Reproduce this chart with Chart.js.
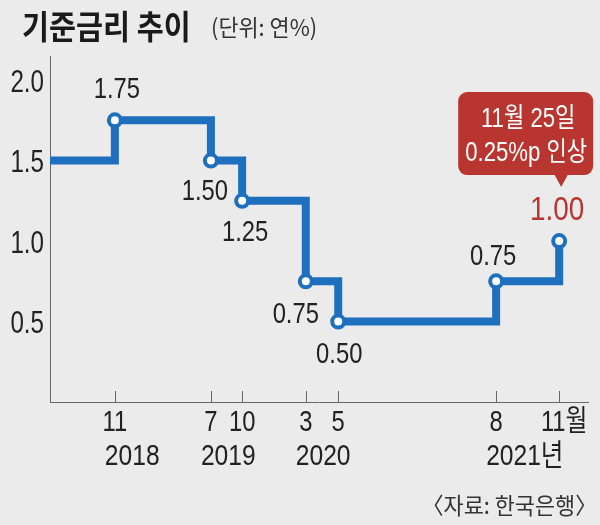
<!DOCTYPE html>
<html>
<head>
<meta charset="utf-8">
<script src="https://cdn.jsdelivr.net/npm/chart.js@4/dist/chart.umd.min.js"></script>
<style>
html, body { margin: 0; padding: 0; background: #ebebeb; }
#wrap { width: 600px; height: 525px; }
</style>
</head>
<body>
<div id="wrap"><canvas id="rateChart"></canvas></div>
<script>
// x = months since Jan 2018 (0), as placed in the picture
var changeMonths = [4.6, 10, 18, 20.6, 25.9, 28.6, 41.75, 47];
var rates = [1.5, 1.75, 1.5, 1.25, 0.75, 0.5, 0.75, 1.0];
var rateLabels = ['', '1.75', '1.50', '1.25', '0.75', '0.50', '0.75', '1.00'];
var monthTicks = [10, 18, 20.6, 25.9, 28.6, 41.75, 47];
var monthLabels = ['11', '7', '10', '3', '5', '8', '11월'];
var yearTicks = [10, 18, 25.9, 41.75];
var yearLabels = ['2018', '2019', '2020', '2021년'];
var yTicks = [0.5, 1.0, 1.5, 2.0];

var SANS = "'Liberation Sans', 'Noto Sans CJK KR', sans-serif";
var KR = "'Noto Sans CJK KR', sans-serif";
var BLUE = '#1f6fbf';
var RED = '#b8362f';
var SQUEEZE = 0.82;

// label offsets from each point (px)
var labelOffsets = [null, [2, -30], [-6, 31], [3, 32], [-10, 34], [1, 33], [-3, -24], [-2, -30]];

var points = changeMonths.map(function(m, i) { return { x: m, y: rates[i] }; });

// draws horizontally condensed text, like the narrow face in the original
function narrowText(ctx, text, x, y, font, align, sx) {
    ctx.save();
    ctx.translate(x, y);
    ctx.scale(sx || SQUEEZE, 1);
    ctx.font = font;
    ctx.textAlign = align || 'center';
    ctx.textBaseline = 'middle';
    ctx.fillText(text, 0, 0);
    ctx.restore();
}

var extras = {
    id: 'extras',
    beforeDraw: function(chart) {
        var ctx = chart.ctx;
        ctx.save();
        ctx.fillStyle = '#ebebeb';
        ctx.fillRect(0, 0, chart.width, chart.height);
        ctx.restore();
    },
    afterDraw: function(chart) {
        var ctx = chart.ctx,
            xs = chart.scales.x,
            ys = chart.scales.y,
            area = chart.chartArea,
            meta = chart.getDatasetMeta(0);
        ctx.save();

        // tick marks pointing up from the x axis, month and year labels
        ctx.strokeStyle = '#666';
        ctx.lineWidth = 1;
        ctx.fillStyle = '#222';
        for (var i = 0; i < monthTicks.length; i++) {
            var px = xs.getPixelForValue(monthTicks[i]);
            var tx = Math.round(px) + 0.5;
            ctx.beginPath();
            ctx.moveTo(tx, area.bottom);
            ctx.lineTo(tx, area.bottom - 11);
            ctx.stroke();
            narrowText(ctx, monthLabels[i], px + (i === monthTicks.length - 1 ? 5 : 0), area.bottom + 21, '29px ' + SANS);
        }
        for (var j = 0; j < yearTicks.length; j++) {
            narrowText(ctx, yearLabels[j], xs.getPixelForValue(yearTicks[j]) - 10, area.bottom + 55, '30px ' + SANS, 'left');
        }

        // y tick labels
        for (var t = 0; t < yTicks.length; t++) {
            narrowText(ctx, yTicks[t].toFixed(1), area.left - 6, ys.getPixelForValue(yTicks[t]) + 3, '31px ' + SANS, 'right', 0.78);
        }

        // value labels
        for (var k = 1; k < rateLabels.length; k++) {
            var p = meta.data[k], off = labelOffsets[k];
            var last = k === rateLabels.length - 1;
            ctx.fillStyle = last ? RED : '#222';
            narrowText(ctx, rateLabels[k], p.x + off[0], p.y + off[1], (last ? '34px ' : '29px ') + SANS);
        }

        // callout over the last point
        var lp = meta.data[meta.data.length - 1];
        var bx = lp.x - 101, by = lp.y - 149, bw = 135, bh = 83;
        ctx.fillStyle = RED;
        ctx.beginPath();
        ctx.roundRect(bx, by, bw, bh, 9);
        ctx.fill();
        ctx.beginPath();
        ctx.moveTo(lp.x - 5, by + bh - 1);
        ctx.lineTo(lp.x + 9, by + bh - 1);
        ctx.lineTo(lp.x + 2, by + bh + 12);
        ctx.closePath();
        ctx.fill();
        ctx.fillStyle = '#fff';
        narrowText(ctx, '11월 25일', bx + 70, by + 27, '27px ' + SANS);
        narrowText(ctx, '0.25%p 인상', bx + 68, by + 61, '27px ' + SANS);

        // title
        ctx.fillStyle = '#1a1a1a';
        narrowText(ctx, '기준금리 추이', 22, 26, 'bold 33px ' + KR, 'left', 0.89);
        ctx.fillStyle = '#333';
        narrowText(ctx, '(단위: 연%)', 211, 27, '23px ' + KR, 'left', 0.95);

        // source
        narrowText(ctx, '〈자료: 한국은행〉', 597, 505, '23px ' + KR, 'right', 0.95);
        ctx.restore();
    }
};

var rateChart = new Chart(document.getElementById('rateChart'), {
    type: 'line',
    data: {
        datasets: [{
            data: points,
            stepped: true,
            borderColor: BLUE,
            borderWidth: 8,
            borderJoinStyle: 'miter',
            borderCapStyle: 'butt',
            pointRadius: rates.map(function(v, i) { return i === 0 ? 0 : 6; }),
            pointBorderWidth: 4,
            pointBackgroundColor: '#fff',
            pointBorderColor: BLUE,
            clip: false
        }]
    },
    options: {
        responsive: true,
        maintainAspectRatio: false,
        animation: false,
        layout: { padding: { top: 56, right: 12, left: 0, bottom: 0 } },
        plugins: { legend: { display: false }, tooltip: { enabled: false } },
        scales: {
            x: {
                type: 'linear',
                min: 4.6,
                max: 49.4,
                afterFit: function(scale) { scale.height = 123; },
                afterBuildTicks: function(scale) {
                    scale.ticks = monthTicks.map(function(v) { return { value: v }; });
                },
                grid: { display: false },
                border: { display: true, color: '#666', width: 1 },
                ticks: { display: false }
            },
            y: {
                min: 0,
                max: 2.15,
                afterFit: function(scale) { scale.width = 50; },
                afterBuildTicks: function(scale) {
                    scale.ticks = yTicks.map(function(v) { return { value: v }; });
                },
                grid: { display: false },
                border: { display: true, color: '#666', width: 1 },
                ticks: { display: false }
            }
        }
    },
    plugins: [extras]
});
</script>
</body>
</html>
